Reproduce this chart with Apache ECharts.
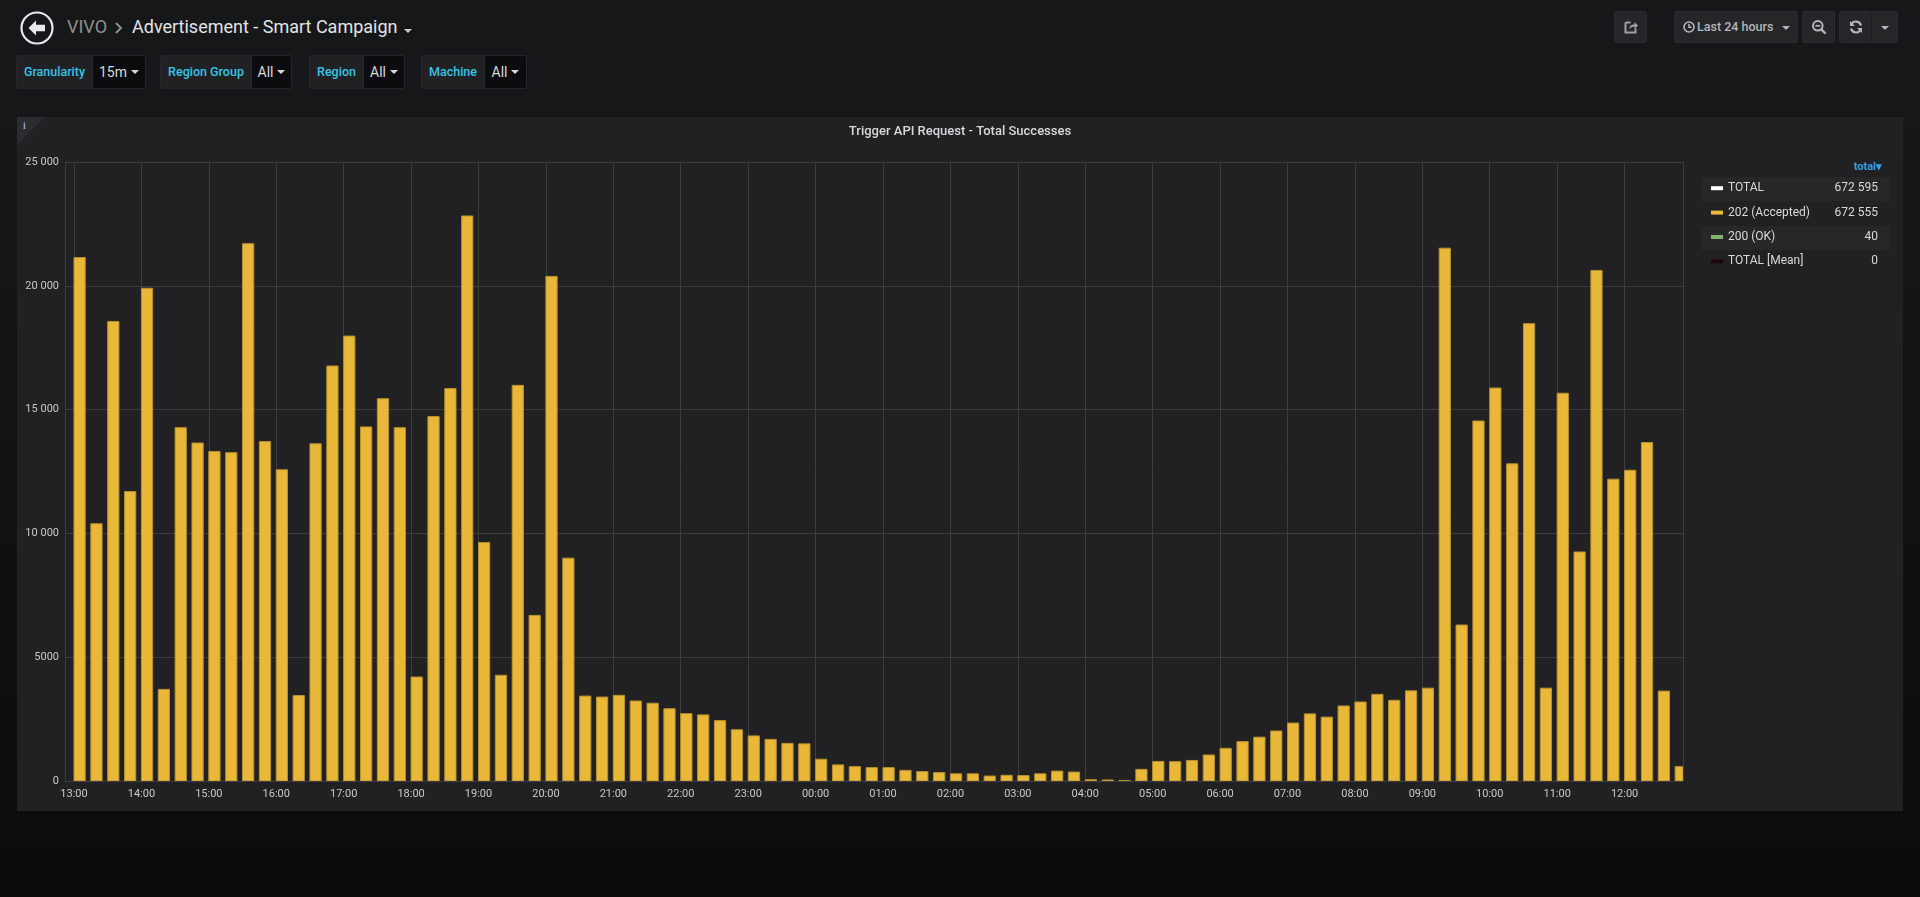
<!DOCTYPE html>
<html>
<head>
<meta charset="utf-8">
<title>Advertisement - Smart Campaign</title>
<script src="https://cdn.jsdelivr.net/npm/echarts@6/dist/echarts.min.js"></script>
<style>
html,body{margin:0;padding:0;width:1920px;height:897px;overflow:hidden;font-family:Roboto,"Helvetica Neue",Arial,sans-serif;}
body{background:linear-gradient(to bottom,#161719 0px,#161719 110px,#0b0c0e 860px);}
.abs{position:absolute;}
.crumb{position:absolute;top:16px;font-size:18px;line-height:22px;white-space:nowrap;}
.lbl{position:absolute;top:55px;height:34px;box-sizing:border-box;background:#212124;border:1px solid #26262a;border-radius:3px 0 0 3px;color:#36c4e6;font-size:12.5px;font-weight:500;line-height:32px;text-align:center;}
.val{position:absolute;top:55px;height:34px;box-sizing:border-box;background:#0b0c0e;border:1px solid #26262a;border-left:none;border-radius:0 3px 3px 0;color:#d8d9da;font-size:14px;line-height:32px;text-align:center;}
.caret{display:inline-block;width:0;height:0;border-left:4px solid transparent;border-right:4px solid transparent;border-top:4px solid #d8d9da;vertical-align:middle;margin-left:4px;margin-top:-2px;}
.btn{position:absolute;top:11px;height:32px;box-sizing:border-box;background:#262628;border:1px solid #2c2c30;border-radius:3px;color:#b3b6ba;}
.btn svg{position:absolute;left:50%;top:50%;transform:translate(-50%,-50%);}
#main{position:absolute;left:17px;top:117px;width:1886px;height:694px;background:#212124;}
</style>
</head>
<body>

<!-- header -->
<div class="abs" style="left:20px;top:11px;width:34px;height:34px">
<svg width="34" height="34" viewBox="0 0 34 34">
<circle cx="17" cy="17" r="15.5" fill="none" stroke="#e6e9ed" stroke-width="2.2"/>
<path d="M8.5 17 L16 9.5 L16 13.8 L25 13.8 L25 20.2 L16 20.2 L16 24.5 Z" fill="#e6e9ed"/>
</svg>
</div>
<div class="crumb" style="left:67px;color:#8e8f91">VIVO</div>
<svg class="abs" style="left:114px;top:22px" width="9" height="12" viewBox="0 0 9 12"><polyline points="2,1 7,6 2,11" fill="none" stroke="#8e8f91" stroke-width="2"/></svg>
<div class="crumb" style="left:132px;color:#e3e4e6">Advertisement - Smart Campaign</div>
<span class="caret abs" style="left:400px;top:31px;border-top-color:#c8c9ca"></span>

<!-- variables -->
<div class="lbl" style="left:16px;width:77px">Granularity</div>
<div class="val" style="left:93px;width:53px">15m<span class="caret"></span></div>
<div class="lbl" style="left:160px;width:92px">Region Group</div>
<div class="val" style="left:252px;width:40px">All<span class="caret"></span></div>
<div class="lbl" style="left:309px;width:55px">Region</div>
<div class="val" style="left:364px;width:41px">All<span class="caret"></span></div>
<div class="lbl" style="left:421px;width:64px">Machine</div>
<div class="val" style="left:485px;width:42px">All<span class="caret"></span></div>

<!-- top right buttons -->
<div class="btn" style="left:1614px;width:33px">
<svg width="15" height="15" viewBox="0 0 15 15"><path d="M2 3 h5 M2 3 v10 h10 v-4" fill="none" stroke="#9fa2a7" stroke-width="2"/><path d="M6 10 C6 6 8 5 11 5 L11 2.5 L14.5 6 L11 9.5 L11 7 C9 7 7 8 6 10 Z" fill="#9fa2a7"/></svg>
</div>
<div class="btn" style="left:1674px;width:124px;font-size:12.5px;font-weight:500;line-height:30px;">
<svg style="left:14px;transform:translate(-50%,-50%)" width="12" height="12" viewBox="0 0 12 12"><circle cx="6" cy="6" r="5" fill="none" stroke="#b3b6ba" stroke-width="1.6"/><path d="M6 3 V6.3 H8.5" fill="none" stroke="#b3b6ba" stroke-width="1.5"/></svg>
<span style="position:absolute;left:22px;top:0">Last 24 hours</span>
<span class="caret" style="position:absolute;left:107px;top:14px;border-top-color:#b3b6ba;margin:0"></span>
</div>
<div class="btn" style="left:1802px;width:33px">
<svg width="16" height="16" viewBox="0 0 16 16"><circle cx="6.8" cy="6.8" r="4.8" fill="none" stroke="#b3b6ba" stroke-width="2"/><line x1="4.5" y1="6.8" x2="9.1" y2="6.8" stroke="#b3b6ba" stroke-width="1.8"/><line x1="10.3" y1="10.3" x2="14" y2="14" stroke="#b3b6ba" stroke-width="2.4" stroke-linecap="round"/></svg>
</div>
<div class="btn" style="left:1839px;width:59px">
<svg style="left:16px" width="15" height="15" viewBox="0 0 15 15"><path d="M12.5 6 A5.2 5.2 0 0 0 3 4.5" fill="none" stroke="#b3b6ba" stroke-width="2.2"/><path d="M1.5 1.5 L1.5 6.5 L6.5 6.5 Z" fill="#b3b6ba"/><path d="M2.5 9 A5.2 5.2 0 0 0 12 10.5" fill="none" stroke="#b3b6ba" stroke-width="2.2"/><path d="M13.5 13.5 L13.5 8.5 L8.5 8.5 Z" fill="#b3b6ba"/></svg>
<div style="position:absolute;left:31px;top:0;width:1px;height:30px;background:#1d1d20"></div>
<span class="caret" style="position:absolute;left:41px;top:14px;border-top-color:#b3b6ba;margin:0"></span>
</div>

<div id="main"></div>

<script>
// 15 minute buckets, first bucket at 13:00
var slotStartHour = 13;
var slotMinutes = 15;

// 202 (Accepted) per bucket, 13:00 .. 12:45 next day
var accepted = [
  21140, 10390, 18560, 11690, 19900, 3700, 14270, 13650,
  13310, 13260, 21700, 13710, 12570, 3450, 13620, 16760,
  17970, 14300, 15440, 14270, 4200, 14720, 15850, 22820,
  9630, 4270, 15980, 6690, 20380, 9000, 3430, 3390,
  3460, 3230, 3140, 2920, 2720, 2670, 2440, 2070,
  1820, 1680, 1520, 1500, 880, 650, 580, 540,
  540, 430, 380, 340, 290, 290, 200, 230,
  220, 290, 400, 360, 50, 40, 20, 470,
  790, 780, 830, 1050, 1320, 1590, 1770, 2020,
  2340, 2710, 2580, 3030, 3190, 3500, 3260, 3640,
  3750, 21520, 6300, 14540, 15870, 12810, 18470, 3750,
  15660, 9250, 20620, 12190, 12550, 13670, 3630, 580
];

var legendNames = ['TOTAL', '202 (Accepted)', '200 (OK)', 'TOTAL [Mean]'];
var legendTotals = [672595, 672555, 40, 0];
var yTickLabels = ['0', '5000', '10 000', '15 000', '20 000', '25 000'];

var MIN = 60 * 1000;
var HOUR = 60 * MIN;
var t0 = new Date(2019, 5, 10, slotStartHour, 0, 0).getTime();
var times = [];
for (var i = 0; i < accepted.length; i++) {
  times.push(t0 + i * slotMinutes * MIN);
}
var xMin = t0 - 8 * MIN;
var xMax = xMin + 24 * HOUR;
// grafana draws each bar from its timestamp over 2/3 of the bucket
var barSpan = slotMinutes * MIN * 2 / 3;

function pad(n) { return n < 10 ? '0' + n : '' + n; }
function spaced(n) {
  return String(n).replace(/\B(?=(\d{3})+(?!\d))/g, ' ');
}

var gridColor = '#3d3d40';
var textColor = '#c8c9ca';

var myChart = echarts.init(document.getElementById('main'));

var option = {
  backgroundColor: 'transparent',
  animation: false,
  textStyle: { fontFamily: 'Roboto, Helvetica Neue, Arial, sans-serif' },
  title: {
    text: 'Trigger API Request - Total Successes',
    left: 'center',
    top: 3,
    textStyle: { color: '#d8d9da', fontSize: 13, fontWeight: 500 }
  },
  grid: { left: 48, right: 220, top: 45, bottom: 30, containLabel: false, outerBoundsMode: 'none' },
  legend: {
    orient: 'vertical',
    left: 1694,
    top: 59,
    padding: 0,
    itemWidth: 12,
    itemHeight: 4,
    itemGap: 0,
    icon: 'rect',
    selectedMode: false,
    data: legendNames,
    formatter: function (name) {
      var k = legendNames.indexOf(name);
      return '{n|' + name + '}{v|' + spaced(legendTotals[k]) + '}';
    },
    textStyle: {
      color: '#d8d9da', fontSize: 12, lineHeight: 24.4,
      rich: {
        n: { width: 104, color: '#d8d9da', fontSize: 12, lineHeight: 24.4 },
        v: { width: 46, align: 'right', color: '#d8d9da', fontSize: 12, lineHeight: 24.4 }
      }
    }
  },
  graphic: [
    { type: 'polygon', shape: { points: [[0, 0], [28, 0], [0, 28]] }, style: { fill: '#2c2c30' }, silent: true },
    { type: 'text', left: 6, top: 4, style: { text: 'i', fill: '#8fa4c2', font: 'bold 10px serif' }, silent: true },
    { type: 'rect', shape: { x: 1684, y: 60, width: 189, height: 24 }, style: { fill: '#27272a' }, z: -1, silent: true },
    { type: 'rect', shape: { x: 1684, y: 109, width: 189, height: 24 }, style: { fill: '#27272a' }, z: -1, silent: true },
    { type: 'text', right: 21, top: 45, style: { text: 'total\u25BE', fill: '#33a2e5', font: 'bold 11px Roboto' }, silent: true }
  ],
  xAxis: {
    type: 'time',
    min: xMin,
    max: xMax,
    minInterval: HOUR,
    maxInterval: HOUR,
    splitNumber: 24,
    axisLine: { lineStyle: { color: gridColor } },
    axisTick: { show: false },
    axisLabel: {
      color: textColor, fontSize: 11, margin: 8,
      showMinLabel: false, showMaxLabel: false,
      formatter: function (v) {
        var d = new Date(v);
        return pad(d.getHours()) + ':' + pad(d.getMinutes());
      }
    },
    splitLine: { show: true, lineStyle: { color: gridColor, width: 1 } }
  },
  yAxis: {
    type: 'value',
    min: 0,
    max: 25000,
    interval: 5000,
    axisLine: { show: false },
    axisTick: { show: false },
    axisLabel: {
      color: textColor, fontSize: 11, margin: 6,
      formatter: function (v) { return yTickLabels[Math.round(v / 5000)]; }
    },
    splitLine: { lineStyle: { color: gridColor, width: 1 } }
  },
  series: [
    { name: 'TOTAL', type: 'line', data: [], itemStyle: { color: '#ffffff' } },
    {
      name: '202 (Accepted)',
      type: 'custom',
      clip: true,
      encode: { x: 0, y: 1 },
      data: accepted.map(function (v, i) { return [times[i], v]; }),
      itemStyle: { color: '#eab839' },
      renderItem: function (params, api) {
        var t = api.value(0);
        var top = api.coord([t, api.value(1)]);
        var bottom = api.coord([t + barSpan, 0]);
        var cs = params.coordSys;
        var shape = echarts.graphic.clipRectByRect(
          { x: top[0], y: top[1], width: bottom[0] - top[0], height: bottom[1] - top[1] },
          { x: cs.x, y: cs.y, width: cs.width, height: cs.height }
        );
        if (!shape) return null;
        return {
          type: 'rect',
          shape: shape,
          style: { fill: '#eab839', stroke: '#b89030', lineWidth: 1 }
        };
      }
    },
    { name: '200 (OK)', type: 'line', data: [], itemStyle: { color: '#7eb26d' } },
    { name: 'TOTAL [Mean]', type: 'line', data: [], itemStyle: { color: '#1e0606' } }
  ]
};

myChart.setOption(option);
</script>
</body>
</html>
